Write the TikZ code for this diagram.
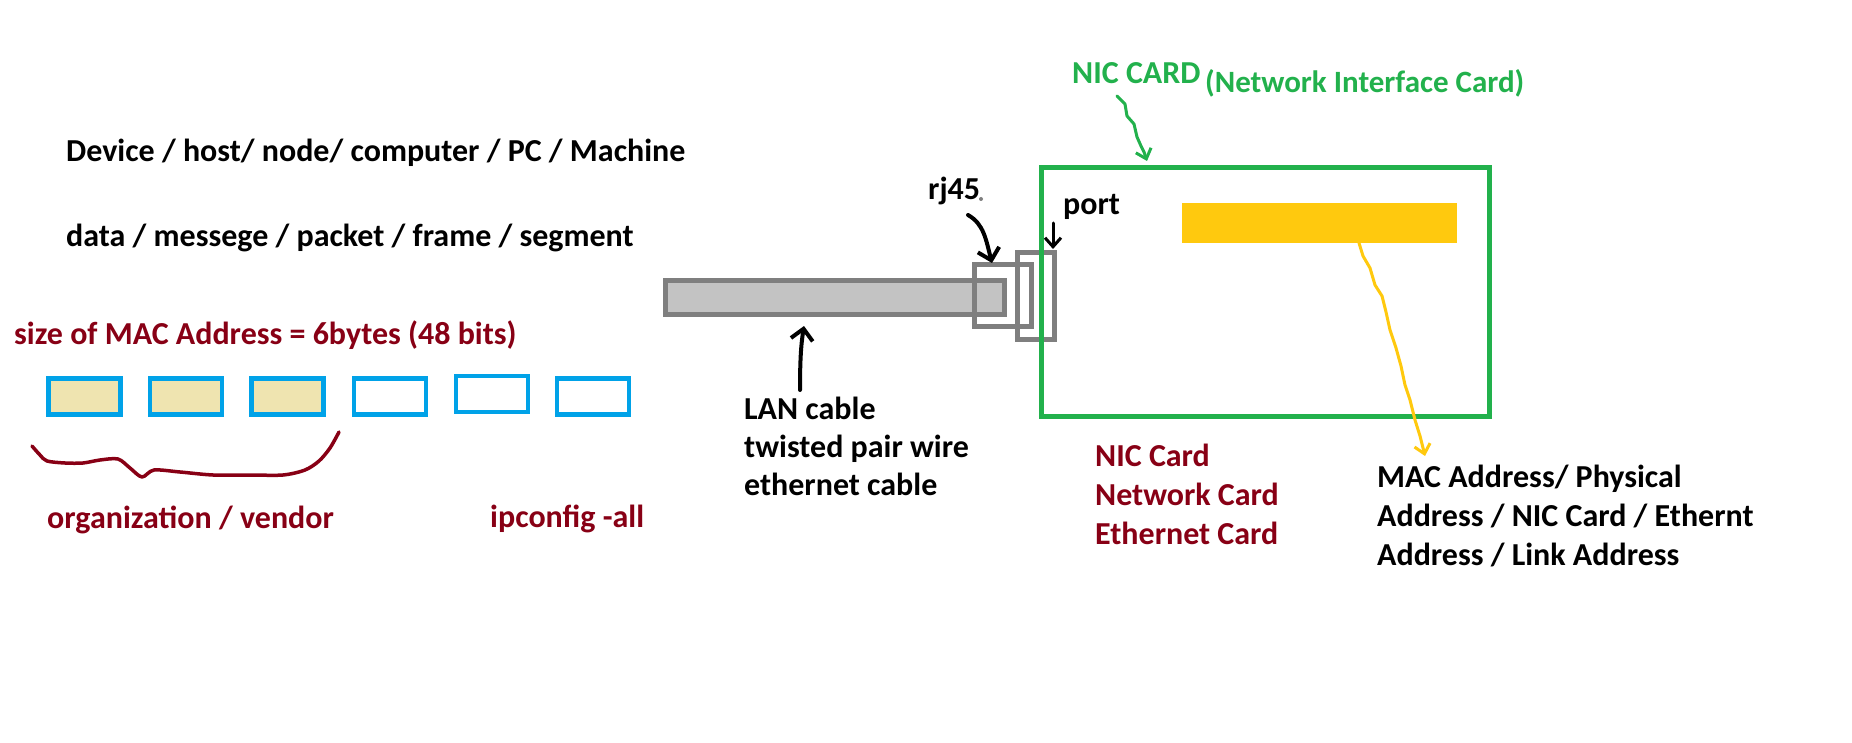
\documentclass[tikz,border=0pt]{standalone}
\usepackage{fontspec}
\setmainfont{Carlito}
\usetikzlibrary{arrows.meta}
\definecolor{dred}{HTML}{880015}
\definecolor{ngreen}{HTML}{22B14C}
\definecolor{mblue}{HTML}{00A2E8}
\definecolor{tan}{HTML}{EFE4B0}
\definecolor{cgray}{HTML}{7F7F7F}
\definecolor{lgray}{HTML}{C3C3C3}
\definecolor{myellow}{HTML}{FFC90E}
\begin{document}
\begin{tikzpicture}[x=1pt,y=-1pt,
  txt/.style={inner sep=0pt,anchor=base west,font=\bfseries\fontsize{32}{39}\selectfont},
  macbox/.style={draw=mblue,line width=4.6pt,minimum width=72pt,minimum height=36pt,inner sep=0pt},
  grayrect/.style={draw=cgray,line width=4.7pt,inner sep=0pt},
  barb/.style={-{Straight Barb[length=11pt,width=22pt]}},
  smallbarb/.style={-{Straight Barb[length=9pt,width=16pt]}},
  hand/.style={line cap=round,line join=round}]
\useasboundingbox[fill=white] (0,0) rectangle (1852,743);

% left column texts
\node[txt] (dev) at (66,162) {Device / host/ node/ computer / PC / Machine};
\node[txt] (data) at (66,247) {data / messege / packet / frame / segment};
\node[txt,text=dred] (size) at (14,344) {size of MAC Address = 6bytes (48 bits)};

% MAC address boxes
\node[macbox,fill=tan] (b1) at (84.5,396.5) {};
\node[macbox,fill=tan] (b2) at (186,396.5) {};
\node[macbox,fill=tan] (b3) at (287.5,396.5) {};
\node[macbox] (b4) at (390,396.5) {};
\node[macbox] (b5) at (492,394) {};
\node[macbox] (b6) at (593,396.5) {};

% brace
\draw[dred,line width=3.5pt,hand] plot[smooth,tension=0.5] coordinates
  {(32,446) (40,455) (47,461) (65,463) (83,463) (100,460) (118,459) (130,468) (142,477) (154,470) (180,472) (213,475) (250,475) (283,475) (305,470) (319,461) (330,448) (339,432)};

\node[txt,text=dred] (org) at (47,528) {organization / vendor};
\node[txt,text=dred] (ipc) at (490,527) {ipconfig -all};

% cable, connector, port, NIC
\node[grayrect,fill=lgray,minimum width=339pt,minimum height=34pt] (cable) at (835,297.5) {};
\node[grayrect,minimum width=57.4pt,minimum height=62.4pt] (rj) at (1003,295.5) {};
\node[grayrect,minimum width=37.4pt,minimum height=87.4pt] (port) at (1036,296) {};
\node[draw=ngreen,line width=4.7pt,inner sep=0pt,minimum width=448.4pt,minimum height=249.4pt] (nic) at (1265.5,292) {};
\node[fill=myellow,inner sep=0pt,minimum width=275pt,minimum height=40pt] (chip) at (1319.5,223) {};

% labels
\node[txt] (rjl) at (928,200) {rj45};
\fill[cgray] (981,199) circle (2pt);
\node[txt] (portl) at (1063,215) {port};
\node[txt,text=ngreen] (nicl) at (1072,84) {NIC CARD};
\node[txt,text=ngreen,font=\bfseries\fontsize{31}{38}\selectfont] (nicf) at (1205,93) {(Network Interface Card)};

\node[txt] (lan1) at (744,419) {LAN cable};
\node[txt] (lan2) at (744,457) {twisted pair wire};
\node[txt] (lan3) at (744,495) {ethernet cable};

\node[txt,text=dred] (nc1) at (1095,466) {NIC Card};
\node[txt,text=dred] (nc2) at (1095,505) {Network Card};
\node[txt,text=dred] (nc3) at (1095,544) {Ethernet Card};

\node[txt] (mac1) at (1377,487) {MAC Address/ Physical};
\node[txt] (mac2) at (1377,526) {Address / NIC Card / Ethernt};
\node[txt] (mac3) at (1377,565) {Address / Link Address};

% arrows
\coordinate (lanT) at (800,390);
\coordinate (lanH) at (804,326);
\draw[line width=4pt,barb,hand] (lanT) .. controls (800,360) and (801,345) .. (lanH);

\coordinate (rjT) at (968,215);
\coordinate (rjH) at (992,263);
\draw[line width=4pt,barb,hand] (rjT) .. controls (984,224) and (986,240) .. (rjH);

\coordinate (portT) at (1053,223);
\coordinate (portH) at (1053,249);
\draw[line width=3pt,smallbarb,hand] (portT) -- (portH);

\coordinate (gT) at (1117,96);
\coordinate (gH) at (1147,161);
\draw[ngreen,line width=3pt,smallbarb,hand] (gT) -- (1125,104) -- (1127,116) -- (1134,124) -- (1137,137) -- (1141,146) -- (1144,152) -- (gH);

\coordinate (yT) at (1359,243);
\coordinate (yH) at (1425,456);
\draw[myellow,line width=3pt,smallbarb,hand] (yT) -- (1363,256) -- (1370,268) -- (1375,285) -- (1382,296) -- (1386,312) -- (1390,330) -- (1396,348) -- (1401,366) -- (1405,385) -- (1410,400) -- (1415,420) -- (1420,436) -- (yH);
\end{tikzpicture}
\end{document}
